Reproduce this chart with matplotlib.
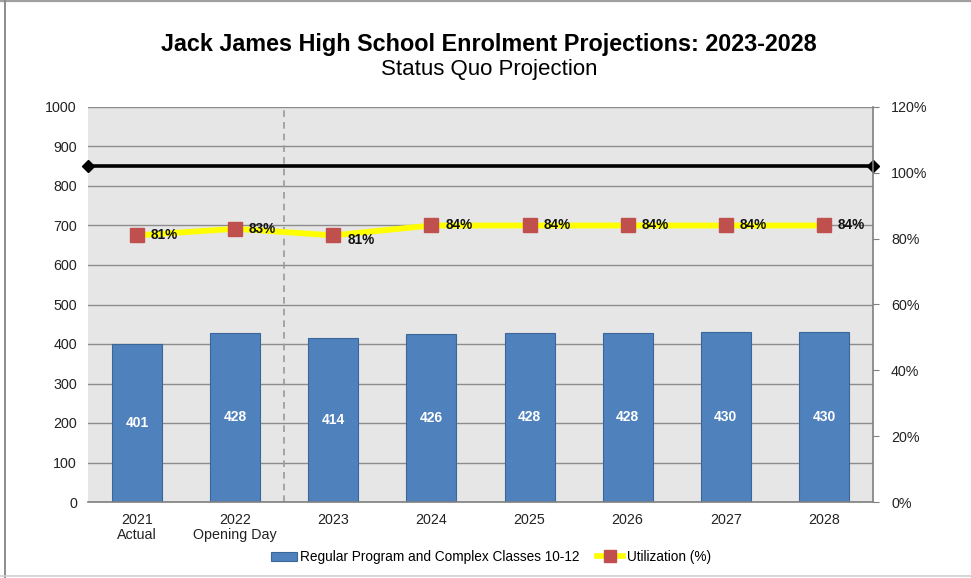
import matplotlib
matplotlib.use("Agg")
import matplotlib.pyplot as plt
from matplotlib.lines import Line2D
from matplotlib.patches import Patch

plt.rcParams['font.family'] = ['Liberation Sans', 'DejaVu Sans']

# Data
categories = ["2021\nActual", "2022\nOpening Day", "2023", "2024", "2025", "2026", "2027", "2028"]
enrolment = [401, 428, 414, 426, 428, 428, 430, 430]
utilization = [81, 83, 81, 84, 84, 84, 84, 84]
capacity_line = 850
left_ticks = list(range(0, 1001, 100))
right_ticks = list(range(0, 121, 20))

W, H = 971, 578
fig = plt.figure(figsize=(W / 100, H / 100), dpi=100)
ax = fig.add_axes([88 / W, 1 - 502 / H, (873 - 88) / W, (502 - 107) / H])
ax2 = ax.twinx()

bar_color = "#4F81BD"
x = list(range(len(categories)))

ax.set_facecolor("#E6E6E6")
ax.set_xlim(-0.5, len(categories) - 0.5)
ax.set_ylim(0, 1000)
ax.set_yticks(left_ticks)
ax.grid(axis="y", color="#8C8C8C", linewidth=1.0, zorder=0)
ax.set_axisbelow(True)

ax.bar(x, enrolment, width=0.51, color=bar_color, edgecolor="#3B6699",
       linewidth=0.8, zorder=2)
for xi, v in zip(x, enrolment):
    ax.text(xi, v / 2, f"{v}", ha="center", va="center", color="white",
            fontsize=10, fontweight="bold", zorder=5)

# Divider between actual and projected years
ax.axvline(1.5, color="#9A9A9A", linestyle=(0, (4, 3)), linewidth=1.2, zorder=1)

# Capacity reference line
ax.plot([-0.5, len(categories) - 0.5], [capacity_line, capacity_line], color="black",
        linewidth=2.6, marker="D", markersize=6, zorder=4, clip_on=False)

ax.set_xticks(x)
ax.set_xticklabels(categories, fontsize=10.3, color="#222222", linespacing=1.05)
ax.tick_params(axis="x", length=0, pad=8)
ax.tick_params(axis="y", length=0, labelsize=10.3, labelcolor="#222222", pad=8)
for s in ["top", "right", "left"]:
    ax.spines[s].set_visible(False)
ax.spines["bottom"].set_color("#7F7F7F")
ax.spines["bottom"].set_linewidth(1.2)

# Utilization on secondary axis
ax2.set_ylim(0, 120)
ax2.set_yticks(right_ticks)
ax2.set_yticklabels([f"{t}%" for t in right_ticks])
ax2.tick_params(axis="y", direction="out", length=4, color="#7F7F7F",
                labelsize=10.3, labelcolor="#222222", pad=9)
for s in ["top", "left", "bottom"]:
    ax2.spines[s].set_visible(False)
ax2.spines["right"].set_color("#7F7F7F")
ax2.spines["right"].set_linewidth(1.2)

ax2.plot(x, utilization, color="#FFFF00", linewidth=4.2, zorder=3)
ax2.plot(x, utilization, linestyle="none", marker="s", markersize=10.5,
         markerfacecolor="#C0504D", markeredgecolor="#C0504D", zorder=4)
for i, (xi, u) in enumerate(zip(x, utilization)):
    dy = -3 if i == 2 else 0
    ax2.annotate(f"{u}%", (xi, u), xytext=(10, dy), textcoords="offset points",
                 ha="left", va="center", fontsize=9.8, fontweight="bold",
                 color="#111111", zorder=6)

# Titles
fig.text(489 / W, 1 - 44 / H, "Jack James High School Enrolment Projections: 2023-2028",
         ha="center", va="center", fontsize=16.8, fontweight="bold", color="black")
fig.text(489 / W, 1 - 70 / H, "Status Quo Projection",
         ha="center", va="center", fontsize=16, color="black")

# Legend
handles = [
    Patch(facecolor=bar_color, edgecolor="#3B6699", linewidth=0.8),
    Line2D([0], [0], color="#FFFF00", linewidth=4, marker="s", markersize=9,
           markerfacecolor="#C0504D", markeredgecolor="#C0504D"),
]
fig.legend(handles, ["Regular Program and Complex Classes 10-12", "Utilization (%)"],
           loc="center", bbox_to_anchor=(491 / W, 1 - 557 / H), ncol=2, frameon=False,
           fontsize=9.8, handlelength=1.9, handleheight=0.6, handletextpad=0.25,
           columnspacing=1.3)

# Outer frame
fig.add_artist(Line2D([0, 1], [1 - 0.8 / H, 1 - 0.8 / H], transform=fig.transFigure,
                      color="#A0A0A0", linewidth=1.6))
fig.add_artist(Line2D([4.5 / W, 4.5 / W], [0, 1], transform=fig.transFigure,
                      color="#8C8C8C", linewidth=1.4))
fig.add_artist(Line2D([0, 1], [2 / H, 2 / H], transform=fig.transFigure,
                      color="#D0D0D0", linewidth=1.2))

fig.savefig("out.png", dpi=100, facecolor="white")
